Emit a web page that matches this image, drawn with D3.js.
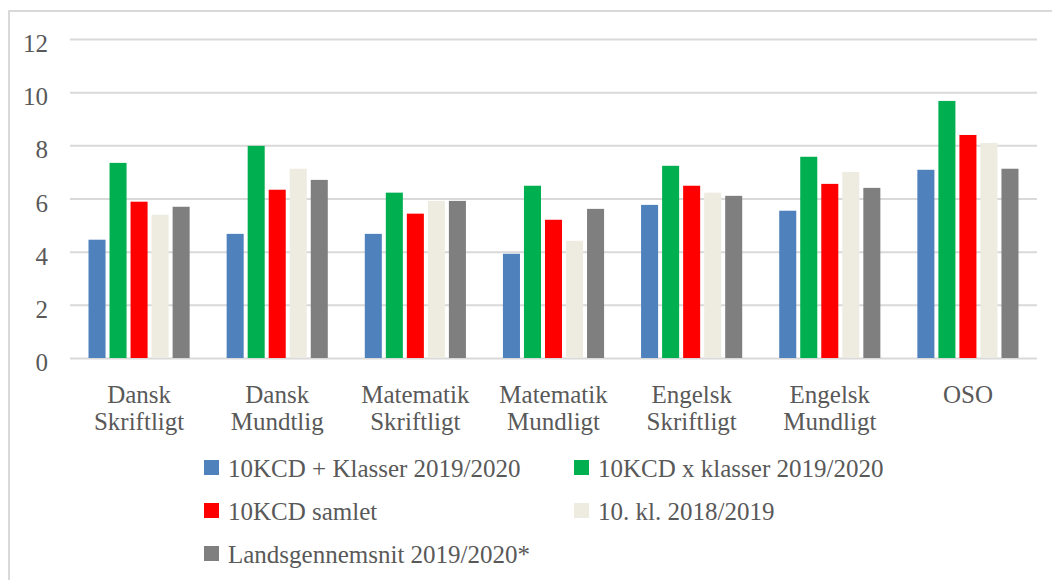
<!DOCTYPE html>
<html>
<head>
<meta charset="utf-8">
<script src="https://cdn.jsdelivr.net/npm/d3@7"></script>
<style>
  body { margin: 0; background: #fff; }
  svg { display: block; font-family: "Liberation Serif", serif; }
  .axis text { fill: #595959; font-size: 25px; font-family: "Liberation Serif", serif; }
  .legend text { fill: #595959; font-size: 25px; }
</style>
</head>
<body>
<svg width="1052" height="580"></svg>
<script>
// fag (two lines each under the axis)
var categories = [
  ["Dansk", "Skriftligt"],
  ["Dansk", "Mundtlig"],
  ["Matematik", "Skriftligt"],
  ["Matematik", "Mundligt"],
  ["Engelsk", "Skriftligt"],
  ["Engelsk", "Mundligt"],
  ["OSO"]
];

var seriesNames = [
  "10KCD + Klasser 2019/2020",
  "10KCD x klasser 2019/2020",
  "10KCD samlet",
  "10. kl. 2018/2019",
  "Landsgennemsnit 2019/2020*"
];

var plusKlasser = [4.45, 4.67, 4.67, 3.92, 5.76, 5.54, 7.08];
var xKlasser    = [7.34, 7.98, 6.22, 6.48, 7.23, 7.57, 9.67];
var samlet      = [5.88, 6.33, 5.43, 5.20, 6.48, 6.55, 8.39];
var kl1819      = [5.39, 7.12, 5.91, 4.41, 6.22, 7.00, 8.09];
var landsgns    = [5.69, 6.70, 5.91, 5.61, 6.10, 6.40, 7.12];

var yTicks = [0, 2, 4, 6, 8, 10, 12];

var colors = ["#4F81BD", "#00B050", "#FF0000", "#EEECE1", "#7F7F7F"];

var allSeries = [plusKlasser, xKlasser, samlet, kl1819, landsgns];

var svg = d3.select("svg"),
    plotLeft = 70, plotRight = 1037, plotTop = 39, plotBottom = 358;

// outer chart border (runs off the right / bottom edge like the original)
svg.append("rect")
  .attr("x", 9).attr("y", 11)
  .attr("width", 1080).attr("height", 620)
  .attr("fill", "none")
  .attr("stroke", "#D9D9D9")
  .attr("stroke-width", 2);

var keys = categories.map(function(c) { return c.join(" "); });

var x0 = d3.scaleBand().domain(keys).range([plotLeft, plotRight]).padding(0);
var x1 = d3.scaleBand().domain(d3.range(seriesNames.length))
  .range([0, x0.bandwidth()])
  .paddingInner(0.19)
  .paddingOuter(0.88);
var y = d3.scaleLinear().domain([0, 12]).range([plotBottom, plotTop]);

// y axis + gridlines
var yAxis = svg.append("g")
  .attr("class", "axis axis--y")
  .attr("transform", "translate(" + plotLeft + ",0)")
  .call(d3.axisLeft(y).tickValues(yTicks).tickSize(-(plotRight - plotLeft)).tickPadding(22));
yAxis.select(".domain").remove();
yAxis.selectAll(".tick line").attr("stroke", "#D9D9D9").attr("stroke-width", 2);
yAxis.selectAll(".tick text").attr("dy", "0.5em");

// bars
var table = categories.map(function(c, i) {
  return { key: keys[i], values: allSeries.map(function(s) { return s[i]; }) };
});

var group = svg.selectAll(".group")
  .data(table)
  .enter().append("g")
  .attr("class", "group")
  .attr("transform", function(d) { return "translate(" + x0(d.key) + ",0)"; });

group.selectAll("rect")
  .data(function(d) { return d.values; })
  .enter().append("rect")
  .attr("x", function(d, i) { return x1(i); })
  .attr("width", x1.bandwidth())
  .attr("y", function(d) { return y(d); })
  .attr("height", function(d) { return y(0) - y(d); })
  .attr("fill", function(d, i) { return colors[i]; });

// category labels
var xAxis = svg.append("g")
  .attr("class", "axis axis--x")
  .attr("transform", "translate(0," + plotBottom + ")")
  .call(d3.axisBottom(x0).tickSize(0));
xAxis.select(".domain").remove();
xAxis.selectAll(".tick text").each(function(d, i) {
  var t = d3.select(this).text(null).attr("y", 0).attr("dy", null);
  categories[i].forEach(function(line, j) {
    t.append("tspan").attr("x", 0).attr("y", 45 + j * 27).text(line);
  });
});

// legend: two columns, three rows
var legend = svg.append("g").attr("class", "legend");
var item = legend.selectAll("g")
  .data(seriesNames)
  .enter().append("g")
  .attr("transform", function(d, i) {
    return "translate(" + (204 + (i % 2) * 370) + "," + (477 + Math.floor(i / 2) * 43) + ")";
  });
item.append("rect")
  .attr("x", 0).attr("y", -17)
  .attr("width", 15).attr("height", 15)
  .attr("fill", function(d, i) { return colors[i]; });
item.append("text")
  .attr("x", 24).attr("y", 0)
  .text(function(d) { return d; });
</script>
</body>
</html>
